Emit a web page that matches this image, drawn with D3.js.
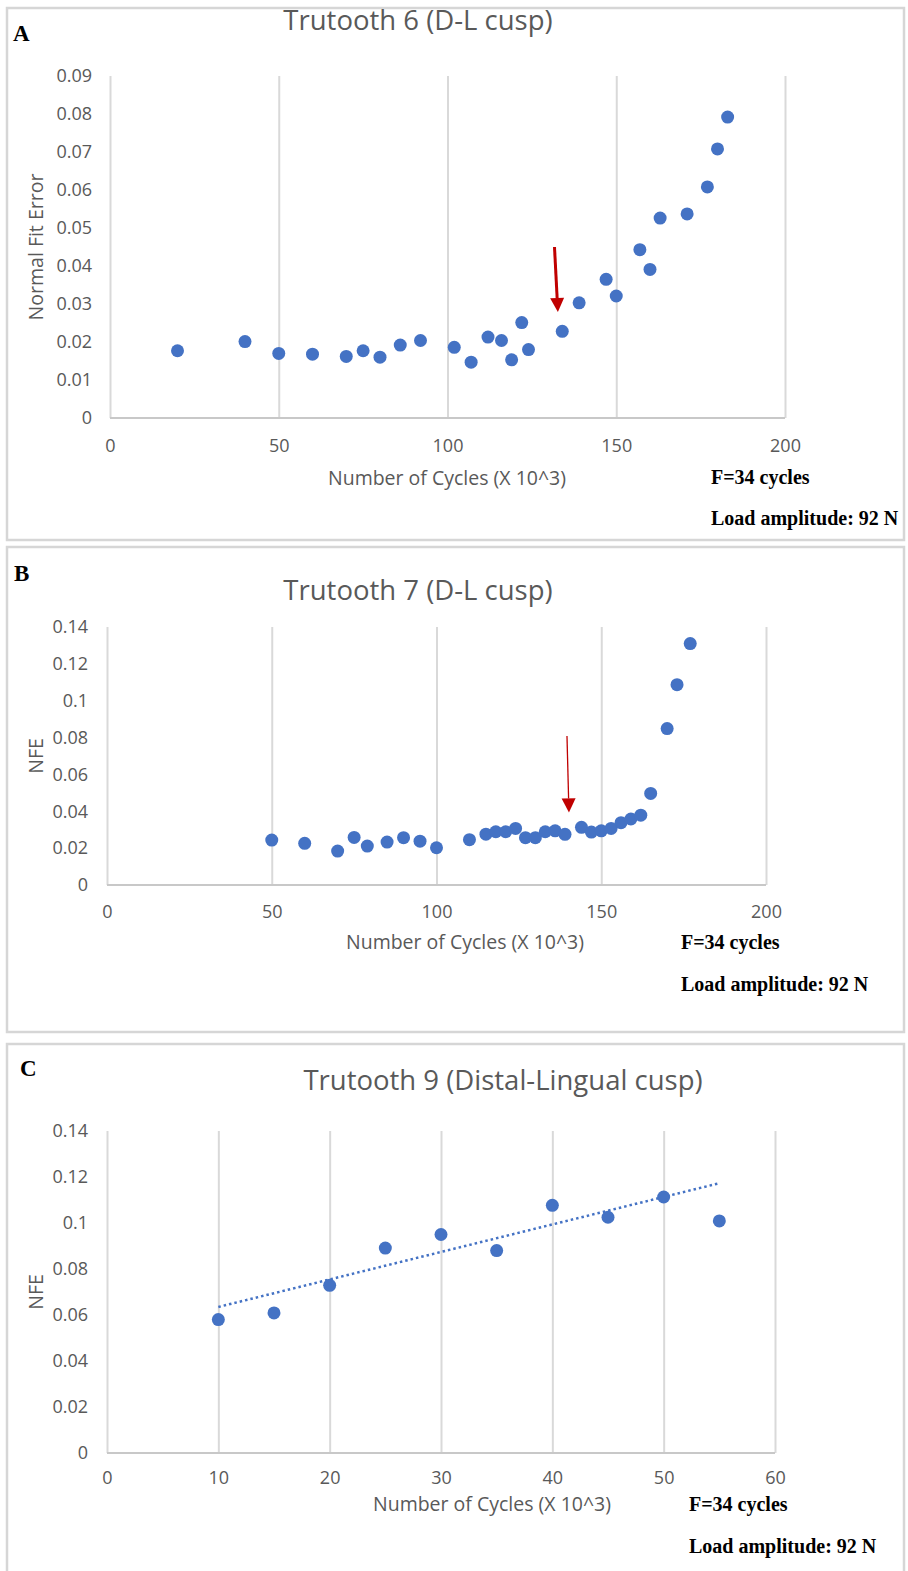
<!DOCTYPE html>
<html>
<head>
<meta charset="utf-8">
<script src="https://cdn.jsdelivr.net/npm/d3@7"></script>
<style>
    body { margin: 0; background: #fff; }
    svg text { font-family: "Open Sans", sans-serif; }
</style>
</head>
<body>
<svg class="fatigue" width="908" height="1571"></svg>
<script>
//Normal fit error vs number of cycles for three Trutooth samples (A, B, C).

//--Data
var cyclesA = [20, 40, 50, 60, 70, 75, 80, 86, 92, 102, 107, 112, 116, 119, 122, 124, 134, 139, 147, 150, 157, 160, 163, 171, 177, 180, 183];
var nfeA = [0.0177, 0.0201, 0.0170, 0.0168, 0.0162, 0.0177, 0.0160, 0.0192, 0.0204, 0.0186, 0.0147, 0.0213, 0.0204, 0.0153, 0.0251, 0.0180,
            0.0228, 0.0303, 0.0365, 0.0321, 0.0443, 0.0391, 0.0526, 0.0537, 0.0608, 0.0708, 0.0792];

var cyclesB = [50, 60, 70, 75, 79, 85, 90, 95, 100, 110, 115, 118, 121, 124, 127, 130, 133, 136, 139, 144, 147, 150, 153, 156, 159, 162, 165, 170, 173, 177];
var nfeB = [0.0244, 0.0226, 0.0184, 0.0258, 0.0211, 0.0233, 0.0257, 0.0238, 0.0202, 0.0246, 0.0276, 0.0289, 0.0289, 0.0307, 0.0257,
            0.0257, 0.0289, 0.0294, 0.0275, 0.0313, 0.0287, 0.0294, 0.0307, 0.0338, 0.0358, 0.0379, 0.0497, 0.0849, 0.1087, 0.131];

var cyclesC = [10, 15, 20, 25, 30, 35, 40, 45, 50, 55];
var nfeC = [0.0580, 0.0609, 0.0729, 0.0891, 0.0950, 0.0880, 0.1077, 0.1025, 0.1113, 0.1009];
//Excel linear trendline ends (as drawn)
var trendC = [{x: 10, y: 0.0635}, {x: 55, y: 0.1173}];

//Red arrows (start point -> tip, in data units)
var arrowA = {x0: 131.7, y0: 0.0450, x1: 132.7, y1: 0.0279};
var arrowB = {x0: 139.6, y0: 0.0809, x1: 140.2, y1: 0.0394};

//Tick values and labels
var xTicksAB = [0, 50, 100, 150, 200];
var xTicksC = [0, 10, 20, 30, 40, 50, 60];
var yTicksA = [0, 0.01, 0.02, 0.03, 0.04, 0.05, 0.06, 0.07, 0.08, 0.09];
var yLabelsA = ["0", "0.01", "0.02", "0.03", "0.04", "0.05", "0.06", "0.07", "0.08", "0.09"];
var yTicksBC = [0, 0.02, 0.04, 0.06, 0.08, 0.1, 0.12, 0.14];
var yLabelsBC = ["0", "0.02", "0.04", "0.06", "0.08", "0.1", "0.12", "0.14"];

var titles = ["Trutooth 6 (D-L cusp)", "Trutooth 7 (D-L cusp)", "Trutooth 9 (Distal-Lingual cusp)"];
var yTitles = ["Normal Fit Error", "NFE", "NFE"];
var xTitle = "Number of Cycles (X 10^3)";
var noteF = "F=34 cycles",
    noteLoad = "Load amplitude: 92 N";

//Colors
var colorDot = "#4472C4",
    colorArrow = "#C00000",
    colorText = "#595959",
    colorGrid = "#d9d9d9",
    colorFrame = "#d6d6d6";

var svg = d3.select("svg.fatigue");
svg.append("rect").attr("width", 908).attr("height", 1571).attr("fill", "#fff");

var panels = [
    { letter: "A", boxTop: 8, boxH: 532, letterY: 41, letterX: 13,
      title: titles[0], titleX: 418, titleY: 30,
      left: 110, right: 785, top: 76, bottom: 418,
      xDomain: [0, 200], yDomain: [0, 0.09], xTicks: xTicksAB, yTicks: yTicksA, yLabels: yLabelsA,
      xLabelY: 452, yLabelX: 92, yTitle: yTitles[0], yTitleX: 43,
      xTitleX: 447, xTitleY: 485, noteX: 711, noteY1: 484, noteY2: 525,
      xs: cyclesA, ys: nfeA, arrow: arrowA, arrowW: 3 },
    { letter: "B", boxTop: 547, boxH: 485, letterY: 581, letterX: 14,
      title: titles[1], titleX: 418, titleY: 600,
      left: 107, right: 766, top: 627, bottom: 885,
      xDomain: [0, 200], yDomain: [0, 0.14], xTicks: xTicksAB, yTicks: yTicksBC, yLabels: yLabelsBC,
      xLabelY: 918, yLabelX: 88, yTitle: yTitles[1], yTitleX: 43,
      xTitleX: 465, xTitleY: 949, noteX: 681, noteY1: 949, noteY2: 991,
      xs: cyclesB, ys: nfeB, arrow: arrowB, arrowW: 1.3 },
    { letter: "C", boxTop: 1044, boxH: 540, letterY: 1076, letterX: 20,
      title: titles[2], titleX: 503, titleY: 1090,
      left: 107, right: 775, top: 1131, bottom: 1453,
      xDomain: [0, 60], yDomain: [0, 0.14], xTicks: xTicksC, yTicks: yTicksBC, yLabels: yLabelsBC,
      xLabelY: 1484, yLabelX: 88, yTitle: yTitles[2], yTitleX: 43,
      xTitleX: 492, xTitleY: 1511, noteX: 689, noteY1: 1511, noteY2: 1553,
      xs: cyclesC, ys: nfeC, trend: trendC }
];

panels.forEach(function(p) {
    var g = svg.append("g").attr("class", "panel" + p.letter);

    //Frame round the panel
    g.append("rect")
        .attr("x", 7).attr("y", p.boxTop)
        .attr("width", 897).attr("height", p.boxH)
        .attr("fill", "none")
        .attr("stroke", colorFrame)
        .attr("stroke-width", 2.5);

    var x = d3.scaleLinear().domain(p.xDomain).range([p.left, p.right]);
    var y = d3.scaleLinear().domain(p.yDomain).range([p.bottom, p.top]);

    //Vertical gridlines (Excel style, no horizontal ones)
    var grid = g.append("g")
        .attr("transform", "translate(0," + p.bottom + ")")
        .call(d3.axisBottom(x).tickValues(p.xTicks).tickSize(-(p.bottom - p.top)).tickFormat(""));
    grid.select(".domain").remove();
    grid.selectAll("line").attr("stroke", colorGrid).attr("stroke-width", 2);

    //Bottom axis line
    g.append("line")
        .attr("x1", p.left).attr("x2", p.right)
        .attr("y1", p.bottom).attr("y2", p.bottom)
        .attr("stroke", "#c8c8c8")
        .attr("stroke-width", 2);

    //X tick labels
    var xAx = g.append("g")
        .attr("transform", "translate(0," + p.xLabelY + ")")
        .call(d3.axisBottom(x).tickValues(p.xTicks).tickSize(0).tickPadding(0));
    xAx.select(".domain").remove();
    xAx.selectAll("text")
        .attr("y", 0).attr("dy", 0)
        .attr("fill", colorText)
        .attr("font-size", "18px")
        .attr("font-family", "Open Sans");

    //Y tick labels
    var yAx = g.append("g")
        .attr("transform", "translate(" + p.yLabelX + ",0)")
        .call(d3.axisLeft(y).tickValues(p.yTicks).tickSize(0).tickPadding(0)
            .tickFormat(function(d, i) { return p.yLabels[i]; }));
    yAx.select(".domain").remove();
    yAx.selectAll("text")
        .attr("x", 0)
        .attr("fill", colorText)
        .attr("font-size", "18px")
        .attr("font-family", "Open Sans");

    //Titles
    g.append("text")
        .attr("x", p.titleX).attr("y", p.titleY)
        .attr("text-anchor", "middle")
        .attr("font-size", "27.5px")
        .attr("fill", colorText)
        .text(p.title);

    g.append("text")
        .attr("transform", "translate(" + p.yTitleX + "," + ((p.top + p.bottom) / 2) + ") rotate(-90)")
        .attr("text-anchor", "middle")
        .attr("font-size", "19.5px")
        .attr("fill", colorText)
        .text(p.yTitle);

    g.append("text")
        .attr("x", p.xTitleX).attr("y", p.xTitleY)
        .attr("text-anchor", "middle")
        .attr("font-size", "19.5px")
        .attr("fill", colorText)
        .text(xTitle);

    //Panel letter and notes (Times-like bold)
    g.append("text")
        .attr("x", p.letterX).attr("y", p.letterY)
        .style("font-family", "'Liberation Serif', serif")
        .attr("font-weight", "bold")
        .attr("font-size", "23px")
        .attr("fill", "#000")
        .text(p.letter);

    [[noteF, p.noteY1], [noteLoad, p.noteY2]].forEach(function(n) {
        g.append("text")
            .attr("x", p.noteX).attr("y", n[1])
            .style("font-family", "'Liberation Serif', serif")
            .attr("font-weight", "bold")
            .attr("font-size", "20px")
            .attr("fill", "#000")
            .text(n[0]);
    });

    //Trendline
    if (p.trend) {
        var line = d3.line()
            .x(function(d) { return x(d.x); })
            .y(function(d) { return y(d.y); });
        g.append("path")
            .attr("d", line(p.trend))
            .attr("fill", "none")
            .attr("stroke", colorDot)
            .attr("stroke-width", 2.5)
            .attr("stroke-dasharray", "2.5,3");
    }

    //Points
    g.selectAll("circle.pt")
        .data(p.xs)
        .enter()
        .append("circle")
        .attr("class", "pt")
        .attr("cx", function(d) { return x(d); })
        .attr("cy", function(d, i) { return y(p.ys[i]); })
        .attr("r", 6.5)
        .attr("fill", colorDot);

    //Red arrow
    if (p.arrow) {
        var a = p.arrow,
            sx = x(a.x0), sy = y(a.y0),
            tx = x(a.x1), ty = y(a.y1);
        var ang = Math.atan2(ty - sy, tx - sx) * 180 / Math.PI;
        var headLen = 14, headW = 7;
        g.append("line")
            .attr("x1", sx).attr("y1", sy)
            .attr("x2", tx - (tx - sx) * headLen / Math.hypot(tx - sx, ty - sy))
            .attr("y2", ty - (ty - sy) * headLen / Math.hypot(tx - sx, ty - sy))
            .attr("stroke", colorArrow)
            .attr("stroke-width", p.arrowW);
        g.append("path")
            .attr("d", "M0,0 L" + (-headLen) + "," + (-headW) + " L" + (-headLen) + "," + headW + " Z")
            .attr("transform", "translate(" + tx + "," + ty + ") rotate(" + ang + ")")
            .attr("fill", colorArrow);
    }
});
</script>
</body>
</html>
